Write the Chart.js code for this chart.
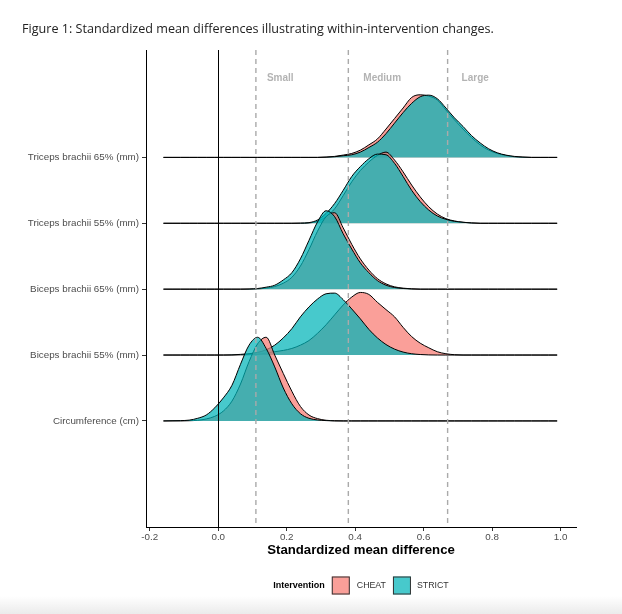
<!DOCTYPE html>
<html>
<head>
<meta charset="utf-8">
<script src="https://cdn.jsdelivr.net/npm/chart.js@4.4.1/dist/chart.umd.min.js"></script>
<style>
  html, body { margin: 0; padding: 0; }
  body { width: 622px; height: 614px; overflow: hidden;
         background: linear-gradient(to bottom, #fff 0, #fff 596px, #ebebeb 614px); }
  #wrap { position: relative; width: 622px; height: 614px; }
</style>
</head>
<body>
<div id="wrap"><canvas id="ridges"></canvas></div>
<script>
// rows bottom -> top
const rowLabels = ["Circumference (cm)", "Biceps brachii 55% (mm)", "Biceps brachii 65% (mm)",
                   "Triceps brachii 55% (mm)", "Triceps brachii 65% (mm)"];

// standardized mean difference grid the densities are read on
const smdGrid = [-0.16, -0.135, -0.11, -0.085, -0.06, -0.035, -0.01, 0.015, 0.04, 0.065,
                 0.09, 0.115, 0.14, 0.165, 0.19, 0.215, 0.24, 0.265, 0.29, 0.315,
                 0.34, 0.365, 0.39, 0.415, 0.44, 0.465, 0.49, 0.515, 0.54, 0.565,
                 0.59, 0.615, 0.64, 0.665, 0.69, 0.715, 0.74, 0.765, 0.79, 0.815,
                 0.84, 0.865, 0.89, 0.915, 0.94, 0.965, 0.99];

// density heights (in row units) for each grid point
const circCheat = [0, 0, 0, 0.003, 0.01, 0.03, 0.07, 0.15, 0.3, 0.56,
                   0.9, 1.17, 1.27, 1.0, 0.72, 0.45, 0.22, 0.09, 0.035, 0.01,
                   0.003, 0, 0, 0, 0, 0, 0, 0, 0, 0,
                   0, 0, 0, 0, 0, 0, 0, 0, 0, 0,
                   0, 0, 0, 0, 0, 0, 0];
const circStrict = [0, 0.003, 0.005, 0.012, 0.04, 0.09, 0.2, 0.35, 0.54, 0.86,
                    1.15, 1.27, 1.1, 0.82, 0.5, 0.26, 0.11, 0.04, 0.015, 0.005,
                    0, 0, 0, 0, 0, 0, 0, 0, 0, 0,
                    0, 0, 0, 0, 0, 0, 0, 0, 0, 0,
                    0, 0, 0, 0, 0, 0, 0];
const bic55Cheat = [0, 0, 0, 0, 0, 0, 0, 0, 0, 0.003,
                    0.005, 0.01, 0.03, 0.05, 0.07, 0.1, 0.15, 0.22, 0.33, 0.46,
                    0.61, 0.76, 0.88, 0.95, 0.92, 0.8, 0.69, 0.58, 0.42, 0.28,
                    0.18, 0.11, 0.05, 0.02, 0.005, 0, 0, 0, 0, 0,
                    0, 0, 0, 0, 0, 0, 0];
const bic55Strict = [0, 0, 0, 0, 0, 0, 0, 0, 0.003, 0.01,
                     0.02, 0.04, 0.08, 0.15, 0.26, 0.4, 0.58, 0.73, 0.85, 0.93,
                     0.94, 0.84, 0.7, 0.55, 0.39, 0.26, 0.16, 0.09, 0.045, 0.02,
                     0.008, 0.002, 0, 0, 0, 0, 0, 0, 0, 0,
                     0, 0, 0, 0, 0, 0, 0];
const bic65Cheat = [0, 0, 0, 0, 0, 0, 0, 0, 0, 0,
                    0, 0.005, 0.015, 0.04, 0.09, 0.18, 0.35, 0.6, 0.88, 1.1,
                    1.16, 0.93, 0.68, 0.46, 0.29, 0.16, 0.08, 0.035, 0.015, 0.005,
                    0, 0, 0, 0, 0, 0, 0, 0, 0, 0,
                    0, 0, 0, 0, 0, 0, 0];
const bic65Strict = [0, 0, 0, 0, 0, 0, 0, 0, 0, 0,
                     0.003, 0.01, 0.03, 0.06, 0.14, 0.25, 0.46, 0.74, 1.02, 1.19,
                     1.1, 0.84, 0.61, 0.4, 0.25, 0.13, 0.06, 0.025, 0.01, 0.003,
                     0, 0, 0, 0, 0, 0, 0, 0, 0, 0,
                     0, 0, 0, 0, 0, 0, 0];
const tri55Cheat = [0, 0, 0, 0, 0, 0, 0, 0, 0, 0,
                    0, 0, 0, 0, 0, 0, 0, 0.005, 0.03, 0.1,
                    0.22, 0.42, 0.63, 0.8, 0.93, 1.03, 1.08, 0.96, 0.78, 0.58,
                    0.4, 0.25, 0.14, 0.07, 0.035, 0.015, 0.005, 0, 0, 0,
                    0, 0, 0, 0, 0, 0, 0];
const tri55Strict = [0, 0, 0, 0, 0, 0, 0, 0, 0, 0,
                     0, 0, 0, 0, 0, 0, 0.003, 0.01, 0.05, 0.15,
                     0.3, 0.5, 0.71, 0.86, 0.98, 1.05, 1.04, 0.91, 0.71, 0.5,
                     0.33, 0.2, 0.11, 0.06, 0.03, 0.015, 0.005, 0, 0, 0,
                     0, 0, 0, 0, 0, 0, 0];
const tri65Cheat = [0, 0, 0, 0, 0, 0, 0, 0, 0, 0,
                    0, 0, 0, 0, 0, 0, 0, 0, 0, 0.005,
                    0.015, 0.035, 0.06, 0.11, 0.19, 0.28, 0.43, 0.59, 0.75, 0.91,
                    0.95, 0.93, 0.87, 0.72, 0.57, 0.43, 0.3, 0.19, 0.11, 0.06,
                    0.03, 0.01, 0.003, 0, 0, 0, 0];
const tri65Strict = [0, 0, 0, 0, 0, 0, 0, 0, 0, 0,
                     0, 0, 0, 0, 0, 0, 0, 0, 0, 0.003,
                     0.01, 0.025, 0.04, 0.08, 0.15, 0.23, 0.36, 0.52, 0.68, 0.82,
                     0.92, 0.945, 0.89, 0.75, 0.6, 0.47, 0.33, 0.22, 0.13, 0.07,
                     0.035, 0.015, 0.005, 0, 0, 0, 0];

const cheatRows = [circCheat, bic55Cheat, bic65Cheat, tri55Cheat, tri65Cheat];
const strictRows = [circStrict, bic55Strict, bic65Strict, tri55Strict, tri65Strict];

const effectCuts = [0.11, 0.38, 0.67];
const effectLabels = ["Small", "Medium", "Large"];
const xTicks = [-0.2, 0.0, 0.2, 0.4, 0.6, 0.8, 1.0];

const groupNames = ["CHEAT", "STRICT"];
const cheatFill = "rgba(248,118,109,0.7)";
const strictFill = "rgba(0,180,185,0.72)";
const axisFont = "Liberation Sans";

let datasets = [];
cheatRows.forEach(function (dens, i) {
  let base = i + 1;
  let groups = [[dens, cheatFill, groupNames[0], 2 * i + 2],
                [strictRows[i], strictFill, groupNames[1], 2 * i + 1]];
  groups.forEach(function (g) {
    datasets.push({
      label: g[2] + " " + rowLabels[i],
      data: smdGrid.map(function (x, j) { return { x: x, y: base + g[0][j] }; }),
      fill: { value: base },
      backgroundColor: g[1],
      borderColor: "#000",
      borderWidth: 1,
      borderJoinStyle: "round",
      pointRadius: 0,
      cubicInterpolationMode: "monotone",
      order: g[3]
    });
  });
});

// vlines, effect size labels, title and legend
const decor = {
  id: "decor",
  afterDatasetsDraw(chart) {
    const ctx = chart.ctx, ca = chart.chartArea, xs = chart.scales.x;
    ctx.save();
    ctx.strokeStyle = "#000";
    ctx.lineWidth = 1;
    let x0 = Math.round(xs.getPixelForValue(0)) + 0.5;
    ctx.beginPath(); ctx.moveTo(x0, ca.top); ctx.lineTo(x0, ca.bottom); ctx.stroke();

    ctx.strokeStyle = "#aaaaaa";
    ctx.lineWidth = 1.4;
    ctx.setLineDash([5, 4]);
    effectCuts.forEach(function (c) {
      let px = xs.getPixelForValue(c);
      ctx.beginPath(); ctx.moveTo(px, ca.top); ctx.lineTo(px, ca.bottom); ctx.stroke();
    });
    ctx.setLineDash([]);

    const offs = [11, 15, 14];
    ctx.fillStyle = "#b3b3b3";
    ctx.font = "bold 10px " + axisFont;
    ctx.textBaseline = "middle";
    ctx.textAlign = "left";
    effectCuts.forEach(function (c, k) {
      ctx.fillText(effectLabels[k], xs.getPixelForValue(c) + offs[k], ca.top + 28);
    });
    ctx.restore();
  },
  afterDraw(chart) {
    const ctx = chart.ctx, ca = chart.chartArea;
    ctx.save();
    ctx.fillStyle = "#222";
    ctx.font = '12.6px "Open Sans"';
    ctx.textBaseline = "middle";
    ctx.textAlign = "left";
    ctx.fillText("Figure 1: Standardized mean differences illustrating within-intervention changes.", 22, 29);

    // legend
    let ly = 585.5;
    ctx.font = "bold 9px " + axisFont;
    let wTitle = ctx.measureText("Intervention").width;
    ctx.font = "8.8px " + axisFont;
    let w1 = ctx.measureText(groupNames[0]).width;
    let w2 = ctx.measureText(groupNames[1]).width;
    let total = wTitle + 7 + 18 + 7 + w1 + 7 + 18 + 6 + w2;
    let lx = (ca.left + ca.right) / 2 - total / 2;

    ctx.fillStyle = "#000";
    ctx.font = "bold 9px " + axisFont;
    ctx.fillText("Intervention", lx, ly);
    lx += wTitle + 7;
    [[cheatFill, groupNames[0], w1, 7], [strictFill, groupNames[1], w2, 6]].forEach(function (it) {
      ctx.fillStyle = it[0];
      ctx.fillRect(lx, ly - 9, 18, 18);
      ctx.strokeStyle = "#333";
      ctx.lineWidth = 1;
      ctx.strokeRect(lx + 0.5, ly - 8.5, 17, 17);
      lx += 18 + it[3];
      ctx.fillStyle = "#333";
      ctx.font = "8.8px " + axisFont;
      ctx.fillText(it[1], lx, ly);
      lx += it[2] + 7;
    });
    ctx.restore();
  }
};

new Chart(document.getElementById("ridges"), {
  type: "line",
  data: { datasets: datasets },
  options: {
    responsive: true,
    maintainAspectRatio: false,
    animation: false,
    layout: { padding: { left: 22, right: 46, top: 50, bottom: 56 } },
    plugins: { legend: { display: false }, tooltip: { enabled: false } },
    scales: {
      x: {
        type: "linear",
        min: -0.211,
        max: 1.045,
        afterBuildTicks: function (s) { s.ticks = xTicks.map(function (v) { return { value: v }; }); },
        afterFit: function (s) { s.height = 31; },
        ticks: {
          callback: function (v) { return v.toFixed(1); },
          font: { family: axisFont, size: 9.8 },
          color: "#4d4d4d",
          padding: 0,
          maxRotation: 0,
          autoSkip: false
        },
        grid: { drawOnChartArea: false, drawTicks: true, tickLength: 4, color: "#333" },
        border: { color: "#000", width: 1 },
        title: {
          display: true,
          text: "Standardized mean difference",
          font: { family: axisFont, size: 13.2, weight: "bold" },
          color: "#000",
          padding: { top: 0, bottom: 0 }
        }
      },
      y: {
        type: "linear",
        min: -0.61,
        max: 6.63,
        afterBuildTicks: function (s) { s.ticks = [1, 2, 3, 4, 5].map(function (v) { return { value: v }; }); },
        afterFit: function (s) { s.width = 124; },
        ticks: {
          callback: function (v) { return rowLabels[v - 1]; },
          font: { family: axisFont, size: 9.8 },
          color: "#4d4d4d",
          padding: 3,
          autoSkip: false
        },
        grid: { drawOnChartArea: false, drawTicks: true, tickLength: 4, color: "#333" },
        border: { color: "#000", width: 1 }
      }
    }
  },
  plugins: [decor]
});
</script>
</body>
</html>
